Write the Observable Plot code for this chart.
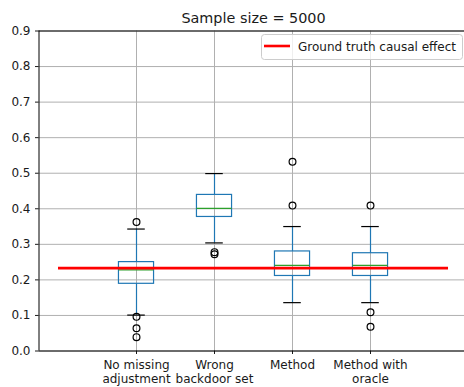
<!DOCTYPE html>
<html><head><meta charset="utf-8">
<script src="https://cdn.jsdelivr.net/npm/d3@7"></script>
<script src="https://cdn.jsdelivr.net/npm/@observablehq/plot@0.6"></script>
<style>body{margin:0;background:#fff} svg{display:block}</style>
</head><body><div id="chart"></div>
<script>
const title = "Sample size = 5000";
const categories = ["No missing\nadjustment", "Wrong\nbackdoor set", "Method", "Method with\noracle"];
const positions = [1, 2, 3, 4];
const q1 = [0.189, 0.377, 0.211, 0.211];
const median = [0.228, 0.401, 0.241, 0.241];
const q3 = [0.250, 0.439, 0.280, 0.275];
const whiskerLo = [0.101, 0.304, 0.136, 0.136];
const whiskerHi = [0.343, 0.499, 0.350, 0.350];
const outlierPos = [1, 1, 1, 1, 2, 2, 3, 3, 4, 4, 4];
const outlierValues = [0.363, 0.096, 0.064, 0.039, 0.278, 0.272, 0.532, 0.409, 0.409, 0.109, 0.068];
const truthValue = 0.233;
const truthSpan = [0, 5];
const legendLabel = "Ground truth causal effect";
const yTicks = [0, 0.1, 0.2, 0.3, 0.4, 0.5, 0.6, 0.7, 0.8, 0.9];
const xDomain = [-0.25, 5.205];
const yDomain = [0, 0.9];

const rows = positions.map((p, i) => ({pos: p, q1: q1[i], med: median[i], q3: q3[i], lo: whiskerLo[i], hi: whiskerHi[i]}));
const outs = outlierPos.map((p, i) => ({pos: p, value: outlierValues[i]}));
const truth = [{y: truthValue, x1: truthSpan[0], x2: truthSpan[1]}];
const boxHalf = 0.225, capHalf = 0.1125;
const blue = "#1f77b4", green = "#2ca02c";

const chart = Plot.plot({
  width: 464, height: 387,
  marginLeft: 38.5, marginRight: 0, marginTop: 30.5, marginBottom: 36.5,
  style: {fontFamily: "DejaVu Sans", fontSize: "12px", color: "#1a1a1a", background: "#fff"},
  x: {domain: xDomain},
  y: {domain: yDomain},
  marks: [
    Plot.gridY(yTicks, {stroke: "#b0b0b0", strokeOpacity: 1, strokeWidth: 1}),
    Plot.gridX(positions, {stroke: "#b0b0b0", strokeOpacity: 1, strokeWidth: 1}),
    Plot.axisY(yTicks, {tickFormat: d3.format(".1f"), tickSize: 3.5, tickPadding: 5, fontSize: 12, label: null}),
    Plot.axisX(positions, {tickFormat: d => categories[d - 1], tickSize: 3.5, tickPadding: 4.5, fontSize: 12, lineHeight: 1.15, label: null}),
    Plot.ruleX([xDomain[0]], {stroke: "#000", strokeWidth: 1}),
    Plot.ruleY(yDomain, {stroke: "#000", strokeWidth: 1}),
    Plot.ruleX(rows, {x: "pos", y1: "lo", y2: "q1", stroke: blue, strokeWidth: 1.2}),
    Plot.ruleX(rows, {x: "pos", y1: "q3", y2: "hi", stroke: blue, strokeWidth: 1.2}),
    Plot.ruleY(rows, {y: "lo", x1: d => d.pos - capHalf, x2: d => d.pos + capHalf, stroke: "#000", strokeWidth: 1.2}),
    Plot.ruleY(rows, {y: "hi", x1: d => d.pos - capHalf, x2: d => d.pos + capHalf, stroke: "#000", strokeWidth: 1.2}),
    Plot.rect(rows, {x1: d => d.pos - boxHalf, x2: d => d.pos + boxHalf, y1: "q1", y2: "q3", fill: "none", stroke: blue, strokeWidth: 1.2}),
    Plot.ruleY(rows, {y: "med", x1: d => d.pos - boxHalf, x2: d => d.pos + boxHalf, stroke: green, strokeWidth: 1.2}),
    Plot.ruleY(truth, {y: "y", x1: "x1", x2: "x2", stroke: "red", strokeWidth: 2.6}),
    Plot.dot(outs, {x: "pos", y: "value", r: 3.4, stroke: "#000", fill: "none", strokeWidth: 1.2}),
    Plot.text([title], {frameAnchor: "top", lineAnchor: "bottom", dy: -8, dx: 1.75, fontSize: 14.4, fill: "#1a1a1a"})
  ]
});

const svg = d3.select(chart);
const lg = svg.append("g").attr("font-family", "DejaVu Sans").attr("font-size", 12).attr("text-anchor", "start");
lg.append("rect").attr("x", 261.5).attr("y", 34.5).attr("width", 201).attr("height", 25)
  .attr("rx", 3).attr("fill", "#fff").attr("fill-opacity", 0.8).attr("stroke", "#cccccc").attr("stroke-width", 1);
lg.append("line").attr("x1", 264).attr("x2", 290).attr("y1", 46).attr("y2", 46)
  .attr("stroke", "red").attr("stroke-width", 2.6);
lg.append("text").attr("x", 298).attr("y", 50.5).attr("text-anchor", "start").attr("fill", "#1a1a1a").text(legendLabel);

document.getElementById("chart").appendChild(chart);
</script>
</body></html>
